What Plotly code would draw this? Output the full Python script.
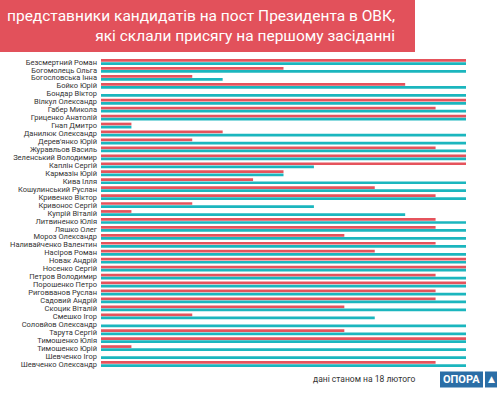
import plotly.graph_objects as go

# candidates (top to bottom) and two counts per candidate
CANDIDATES = [
    "Безсмертний Роман", "Богомолець Ольга", "Богословська Інна", "Бойко Юрій",
    "Бондар Віктор", "Вілкул Олександр", "Габер Микола", "Гриценко Анатолій",
    "Гнап Дмитро", "Данилюк Олександр", "Дерев'янко Юрій", "Журавльов Василь",
    "Зеленський Володимир", "Каплін Сергій", "Кармазін Юрій", "Кива Ілля",
    "Кошулинський Руслан", "Кривенко Віктор", "Кривонос Сергій", "Купрій Віталій",
    "Литвиненко Юлія", "Ляшко Олег", "Мороз Олександр", "Наливайченко Валентин",
    "Насіров Роман", "Новак Андрій", "Носенко Сергій", "Петров Володимир",
    "Порошенко Петро", "Риговванов Руслан", "Садовий Андрій", "Скоцик Віталій",
    "Смешко Ігор", "Соловйов Олександр", "Тарута Сергій", "Тимошенко Юлія",
    "Тимошенко Юрій", "Шевченко Ігор", "Шевченко Олександр",
]
SWORN = [12, 6, 3, 10, 0, 12, 11, 12, 1, 4,
         3, 11, 12, 12, 6, 5, 9, 11, 3, 1,
         11, 11, 8, 11, 9, 12, 12, 11, 12, 11,
         11, 8, 3, 0, 8, 12, 1, 0, 11]
TOTAL = [12, 12, 4, 12, 12, 12, 12, 12, 1, 12,
         12, 12, 12, 7, 6, 12, 12, 12, 7, 10,
         12, 12, 12, 12, 12, 12, 12, 12, 12, 12,
         12, 12, 9, 12, 12, 12, 12, 12, 12]
X_MAX = 12

TITLE = "представники кандидатів на пост Президента в ОВК,<br>які склали присягу на першому засіданні"
NOTE = "дані станом на 18 лютого"

RED = "#e5535c"
TEAL = "#1bb6be"
BLUE = "#2b6ea6"
W, H = 500, 400
L, R, T, B = 101, 34, 58, 31.5


def px(x):
    return (x - L) / (W - L - R)


def py(y):
    return (H - B - y) / (H - T - B)


fig = go.Figure()
fig.add_trace(go.Bar(y=CANDIDATES, x=SWORN, orientation="h", marker_color=RED,
                     marker_line_width=0, name="склали присягу"))
fig.add_trace(go.Bar(y=CANDIDATES, x=TOTAL, orientation="h", marker_color=TEAL,
                     marker_line_width=0, name="представники"))

# red title banner
fig.add_shape(type="rect", xref="paper", yref="paper",
              x0=px(0), x1=px(415), y0=py(52), y1=py(0),
              fillcolor="#e2515b", line_width=0, layer="below")
fig.add_annotation(xref="paper", yref="paper", x=px(397), y=py(26),
                   xanchor="right", yanchor="middle", align="right",
                   text=TITLE, showarrow=False,
                   font=dict(family="Roboto", size=15.5, color="white"))

fig.add_annotation(xref="paper", yref="paper", x=px(417), y=py(380),
                   xanchor="right", yanchor="middle", text=NOTE, showarrow=False,
                   font=dict(family="Roboto", size=8.5, color="#333333"))

# logo
fig.add_shape(type="rect", xref="paper", yref="paper",
              x0=px(440), x1=px(483), y0=py(388), y1=py(372),
              fillcolor=BLUE, line_width=0)
fig.add_shape(type="rect", xref="paper", yref="paper",
              x0=px(485), x1=px(497), y0=py(388), y1=py(372),
              fillcolor=BLUE, line_width=0)
fig.add_annotation(xref="paper", yref="paper", x=px(461.5), y=py(380),
                   xanchor="center", yanchor="middle", text="<b>ОПОРА</b>",
                   showarrow=False,
                   font=dict(family="Roboto", size=11, color="white"))
fig.add_annotation(xref="paper", yref="paper", x=px(491), y=py(380),
                   xanchor="center", yanchor="middle", text="▲",
                   showarrow=False,
                   font=dict(family="DejaVu Sans", size=9, color="white"))

fig.update_layout(
    width=W, height=H,
    margin=dict(l=L, r=R, t=T, b=B),
    paper_bgcolor="white", plot_bgcolor="white",
    barmode="group", bargap=0.22, bargroupgap=0.12,
    showlegend=False,
    xaxis=dict(range=[0, X_MAX], visible=False, fixedrange=True,
               automargin=False),
    yaxis=dict(autorange="reversed", showgrid=False, zeroline=False,
               showline=False, ticks="", ticklabelstandoff=3,
               automargin=False,
               tickmode="array", tickvals=CANDIDATES, ticktext=CANDIDATES,
               tickfont=dict(family="Roboto", size=7.5, color="#333333")),
)

# the page's default body margin pushes the figure 8px off the corner
fig.write_html("out.html", config={"displayModeBar": False},
               post_script="document.body.style.margin = '0';")
